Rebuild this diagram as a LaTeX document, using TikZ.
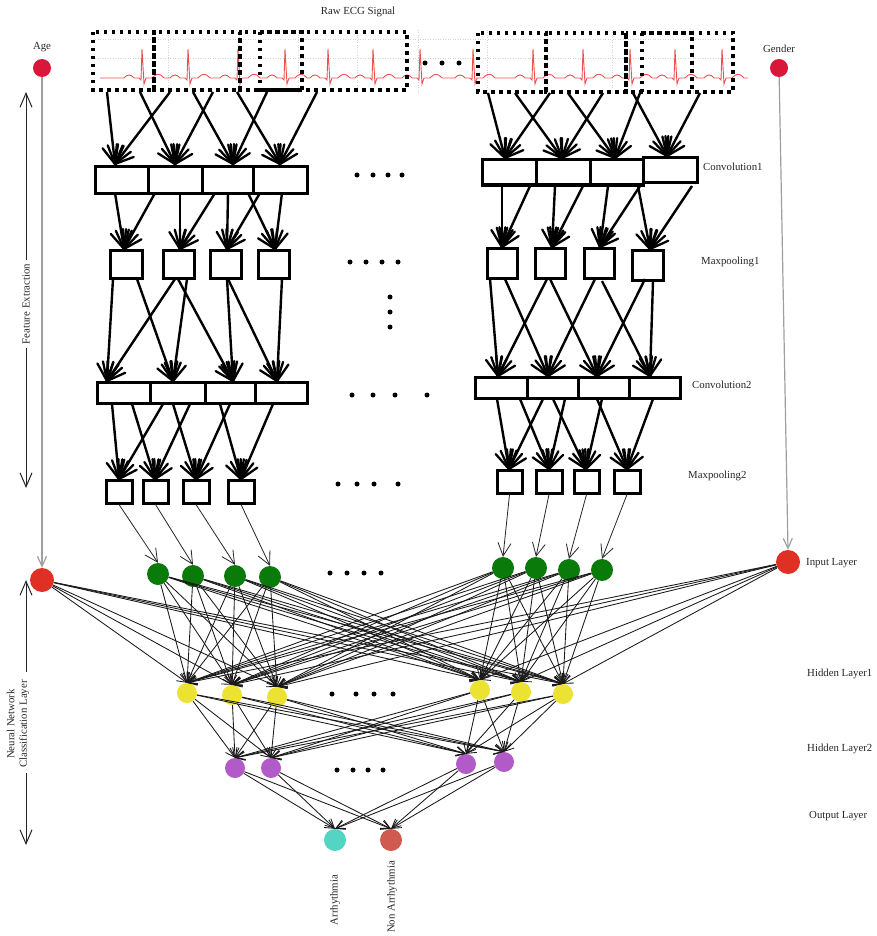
\documentclass[tikz,border=0pt]{standalone}
\usepackage{fontspec}
\setmainfont{Liberation Serif}
\usetikzlibrary{arrows.meta,calc}
\definecolor{dotred}{RGB}{218,22,58}
\definecolor{inred}{RGB}{222,48,36}
\definecolor{ngreen}{RGB}{10,122,10}
\definecolor{nyellow}{RGB}{236,226,50}
\definecolor{npurple}{RGB}{178,90,200}
\definecolor{ncyan}{RGB}{84,212,194}
\definecolor{nsalmon}{RGB}{206,90,80}
\definecolor{ecgred}{RGB}{238,80,80}
\begin{document}
\begin{tikzpicture}[x=1pt,y=-1pt,
  lbl/.style={font=\fontsize{10.8}{12.5}\selectfont, text=black!85, inner sep=0pt},
  cbox/.style={draw, line width=3pt, fill=white, inner sep=0pt},
  fat/.style={line width=2.4pt},
  ray/.style={line width=2.3pt, line cap=round},
  thinarr/.style={line width=0.8pt, black!85, -{Straight Barb[length=13pt,width=13pt]}},
  nn/.style={line width=0.85pt, black!90, -{Straight Barb[length=9pt,width=9pt]}},
  bigv/.style={line width=1pt, black!85, -{Straight Barb[length=14pt,width=12pt]}},
  dotframe/.style={line width=3.5pt, dash pattern=on 3.5pt off 4.5pt},
  grid/.style={gray!35, line width=0.5pt, dotted},
  neuron/.style={circle, inner sep=0pt, draw=none},
  elli/.style={circle, fill=black, inner sep=0pt, minimum size=5pt},
]
\useasboundingbox (0,0) rectangle (877,936);

% ---------- ECG strip ----------
\node[lbl] (raw) at (358,12) {Raw ECG Signal};
\foreach \gy in {39,58} \draw[grid] (95,\gy) -- (735,\gy);
\foreach \gx in {168,239,298,357,418,487,547,612,693} \draw[grid] (\gx,30) -- (\gx,95);
\draw[ecgred, line width=0.9pt] (100,78)
  \foreach \p in {142,188,238,285,328,373,420,473,533,583,630,675,722} {
    -- (\p-18,78) .. controls (\p-15,74) and (\p-11,74) .. (\p-8,78)
    -- (\p-3,78) -- (\p-1,80) -- (\p,49) -- (\p+2,84) -- (\p+4,78)
    -- (\p+10,78) .. controls (\p+14,73) and (\p+18,73) .. (\p+22,78) }
  -- (748,78);
\foreach \a/\b in {93/154,154/240,240/302,260/407}
  \draw[dotframe] (\a,32) rectangle (\b,90);
\foreach \a/\b in {478/546,546/626,626/692,642/733}
  \draw[dotframe] (\a,33) rectangle (\b,92);
\foreach \x [count=\k] in {425,442,459} \node[elli] (ed\k) at (\x,63) {};

% ---------- Age / Gender ----------
\node[neuron, fill=dotred, minimum size=18pt] (age) at (42,68) {};
\node[lbl] (agel) at (42,47) {Age};
\node[neuron, fill=dotred, minimum size=18pt] (gender) at (779,68) {};
\node[lbl] (genderl) at (779,49) {Gender};

% ---------- CNN boxes ----------
\foreach \n/\a/\b/\t/\u in {
  cA1/95/148/167/193, cA2/148/202/167/193, cA3/202/253/167/193, cA4/253/307/167/193,
  cB1/482/536/160/185, cB2/536/590/160/185, cB3/590/643/160/185, cB4/643/697/158/183,
  mA1/110/142/250/278, mA2/163/194/250/278, mA3/210/241/250/278, mA4/258/289/250/278,
  mB1/487/517/248/278, mB2/535/565/248/278, mB3/584/614/248/278, mB4/632/663/250/280,
  kA1/97/150/382/403, kA2/150/205/382/403, kA3/205/255/382/403, kA4/255/307/382/403,
  kB1/475/527/377/398, kB2/527/578/377/398, kB3/578/629/377/398, kB4/629/680/377/398,
  qA1/106/132/480/503, qA2/143/168/480/503, qA3/183/209/480/503, qA4/228/254/480/503,
  qB1/497/522/470/493, qB2/536/562/470/493, qB3/574/599/470/493, qB4/614/640/470/493}
  \node[cbox, minimum width={(\b-\a)*1pt}, minimum height={(\u-\t)*1pt}] (\n) at ({(\a+\b)/2},{(\t+\u)/2}) {};

% ---------- thick arrows with fan heads ----------
\foreach \sx/\sy/\tx/\ty [count=\k] in {
  107/92/115/164, 170/92/115/164, 140/92/175/164, 213/92/175/164,
  193/92/233/164, 267/92/233/164, 237/92/280/164, 317/92/280/164,
  488/93/505/158, 550/93/505/158, 515/93/562/158, 603/93/562/158,
  568/93/615/158, 640/93/615/158, 633/93/667/156, 700/93/667/156,
  115/193/124/249, 155/193/124/249, 180/193/180/249, 215/193/180/249,
  228/193/227/249, 260/193/227/249, 248/193/275/249, 282/193/275/249,
  502/186/502/247, 530/186/502/247, 555/186/552/247, 583/186/552/247,
  608/186/600/247, 640/186/600/247, 638/186/650/249, 692/186/650/249,
  113/279/107/381, 175/279/107/381, 137/279/173/381, 187/279/173/381,
  178/279/233/381, 227/279/233/381, 228/279/277/381, 282/279/277/381,
  490/279/498/376, 547/279/498/376, 505/279/548/376, 595/279/548/376,
  550/279/597/376, 645/279/597/376, 602/281/650/376, 653/281/650/376,
  112/404/119/479, 163/404/119/479, 132/404/155/479, 190/404/155/479,
  173/404/196/479, 230/404/196/479, 220/404/241/479, 273/404/241/479,
  497/399/509/469, 543/399/509/469, 520/399/549/469, 565/399/549/469,
  553/399/586/469, 602/399/586/469, 597/399/627/469, 653/399/627/469}
{
  \coordinate (fa\k) at (\sx,\sy);
  \coordinate (fb\k) at (\tx,\ty);
  \draw[fat] (fa\k) -- (fb\k);
  \foreach \ang in {-32,-15,15,32}
    \draw[ray] (fb\k) -- ($(fb\k)!20pt!\ang:(fa\k)$);
}

% ---------- ellipsis dots (CNN) ----------
\foreach \x [count=\k] in {357,373,388,402} \node[elli] (d1\k) at (\x,175) {};
\foreach \x [count=\k] in {350,366,382,398} \node[elli] (d2\k) at (\x,262) {};
\foreach \y [count=\k] in {297,312,327} \node[elli] (d3\k) at (390,\y) {};
\foreach \x [count=\k] in {352,373,395,427} \node[elli] (d4\k) at (\x,395) {};
\foreach \x [count=\k] in {338,357,374,398} \node[elli] (d5\k) at (\x,484) {};

% ---------- layer labels ----------
\node[lbl, anchor=west] (lc1) at (703,167) {Convolution1};
\node[lbl, anchor=west] (lm1) at (701,262) {Maxpooling1};
\node[lbl, anchor=west] (lc2) at (692,385) {Convolution2};
\node[lbl, anchor=west] (lm2) at (688,476) {Maxpooling2};
\node[lbl, anchor=west] (lin) at (806,563) {Input Layer};
\node[lbl, anchor=west] (lh1) at (807,674) {Hidden Layer1};
\node[lbl, anchor=west] (lh2) at (807,749) {Hidden Layer2};
\node[lbl, anchor=west] (lout) at (809,816) {Output Layer};

% ---------- neurons ----------
\node[neuron, fill=inred, minimum size=24pt] (inA) at (42,580) {};
\node[neuron, fill=inred, minimum size=24pt] (inG) at (788,562) {};
\foreach \n/\x/\y in {gL1/158/574, gL2/193/576, gL3/235/576, gL4/270/577,
                      gR1/503/568, gR2/536/568, gR3/569/570, gR4/602/570}
  \node[neuron, fill=ngreen, minimum size=22pt] (\n) at (\x,\y) {};
\foreach \n/\x/\y in {h1/187/693, h2/232/695, h3/277/697, h4/480/690, h5/521/692, h6/563/694}
  \node[neuron, fill=nyellow, minimum size=20pt] (\n) at (\x,\y) {};
\foreach \n/\x/\y in {p1/235/768, p2/271/768, p3/466/764, p4/504/762}
  \node[neuron, fill=npurple, minimum size=20pt] (\n) at (\x,\y) {};
\node[neuron, fill=ncyan, minimum size=22pt] (o1) at (335,840) {};
\node[neuron, fill=nsalmon, minimum size=22pt] (o2) at (391,840) {};

\foreach \x [count=\k] in {330,347,364,381} \node[elli] (d6\k) at (\x,573) {};
\foreach \x [count=\k] in {332,356,374,393} \node[elli] (d7\k) at (\x,694) {};
\foreach \x [count=\k] in {337,353,368,383} \node[elli] (d8\k) at (\x,770) {};

% ---------- maxpool2 -> input ----------
\foreach \m/\g in {qA1/gL1, qA2/gL2, qA3/gL3, qA4/gL4, qB1/gR1, qB2/gR2, qB3/gR3, qB4/gR4}
  \draw[thinarr] (\m.south) -- (\g.north);

% ---------- dense layers ----------
\foreach \s in {inA,gL1,gL2,gL3,gL4,gR1,gR2,gR3,gR4,inG}
  \foreach \t in {h1,h2,h3,h4,h5,h6}
    \draw[nn] (\s) -- (\t.north);
\foreach \s in {h1,h2,h3,h4,h5,h6}
  \foreach \t in {p1,p2,p3,p4}
    \draw[nn] (\s) -- (\t.north);
\foreach \s in {p1,p2,p3,p4}
  \foreach \t in {o1,o2}
    \draw[nn] (\s) -- (\t.north);

% ---------- Age / Gender feed lines ----------
\draw[gray!75, line width=1.2pt, -{Straight Barb[length=10pt,width=9pt]}] (age) -- (inA.north);
\draw[gray!75, line width=1.2pt, -{Straight Barb[length=10pt,width=9pt]}] (gender) -- (inG.north);

% ---------- output labels ----------
\node[lbl, rotate=90] (arr) at (335,900) {Arrhythmia};
\node[lbl, rotate=90] (narr) at (392,897) {Non Arrhythmia};

% ---------- side brackets ----------
\node[lbl, rotate=90, inner sep=4pt] (fe) at (26,304) {Feature Extraction};
\coordinate (fetop) at (26,92);
\coordinate (febot) at (26,488);
\draw[bigv] (fe.east) -- (fetop);
\draw[bigv] (fe.west) -- (febot);

\node[lbl, rotate=90, align=center, inner sep=4pt] (nnl) at (18,724) {Neural Network\\Classification Layer};
\coordinate (nntop) at (26,580);
\coordinate (nnbot) at (26,845);
\coordinate (nnup) at (26,672);
\coordinate (nndn) at (26,773);
\draw[bigv] (nnup) -- (nntop);
\draw[bigv] (nndn) -- (nnbot);
\end{tikzpicture}
\end{document}
